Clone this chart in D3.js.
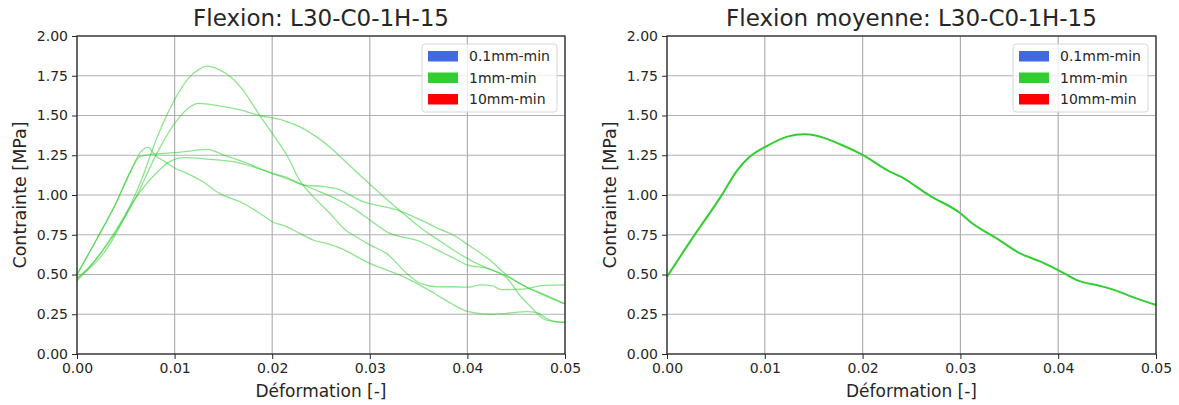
<!DOCTYPE html>
<html>
<head>
<meta charset="utf-8">
<script src="https://cdn.jsdelivr.net/npm/d3@7"></script>
<style>
  body { margin: 0; background: #fff; }
  svg text { font-family: "DejaVu Sans", sans-serif; fill: #262626; }
</style>
</head>
<body>
<svg id="chart" width="1179" height="405"></svg>
<script>
// values: [strain, stress]
const essai1 = [[0,0.48],[0.0015,0.55],[0.0032,0.675],[0.0049,0.864],[0.0066,1.094],[0.008,1.33],[0.01,1.6],[0.0115,1.74],[0.0125,1.79],[0.0133,1.81],[0.0145,1.79],[0.016,1.73],[0.017,1.66],[0.0187,1.503],[0.02,1.388],[0.0215,1.25],[0.0228,1.094],[0.0242,0.99],[0.0259,0.885],[0.0275,0.78],[0.0283,0.748],[0.03,0.686],[0.0317,0.633],[0.0338,0.507],[0.0352,0.444],[0.0369,0.423],[0.0385,0.423],[0.04,0.42],[0.0414,0.435],[0.0425,0.43],[0.0435,0.405],[0.046,0.41],[0.0476,0.43],[0.05,0.435]];
const essai2 = [[0,0.47],[0.002,0.6],[0.004,0.77],[0.006,0.98],[0.008,1.24],[0.01,1.45],[0.0115,1.55],[0.0124,1.576],[0.0146,1.56],[0.0167,1.535],[0.0187,1.5],[0.0211,1.47],[0.0228,1.43],[0.0245,1.367],[0.0263,1.28],[0.0282,1.17],[0.0301,1.063],[0.0332,0.895],[0.0355,0.78],[0.0372,0.71],[0.0383,0.665],[0.04,0.6],[0.042,0.54],[0.044,0.49],[0.0461,0.42],[0.0478,0.37],[0.05,0.315]];
const essai3 = [[0,0.5],[0.002,0.72],[0.004,0.95],[0.0055,1.15],[0.0064,1.24],[0.0075,1.255],[0.01,1.266],[0.0119,1.279],[0.0133,1.287],[0.0153,1.245],[0.0174,1.2],[0.02,1.136],[0.0215,1.11],[0.0232,1.063],[0.0249,1.055],[0.0266,1.04],[0.0293,0.958],[0.0328,0.906],[0.0352,0.843],[0.0372,0.784],[0.0385,0.75],[0.0401,0.686],[0.0423,0.591],[0.044,0.497],[0.0461,0.419],[0.0475,0.385],[0.05,0.315]];
const essai4 = [[0,0.46],[0.002,0.6],[0.004,0.78],[0.006,0.98],[0.008,1.13],[0.0095,1.21],[0.011,1.235],[0.0133,1.226],[0.016,1.21],[0.018,1.178],[0.02,1.136],[0.0232,1.063],[0.0249,1.02],[0.0259,0.994],[0.0283,0.916],[0.03,0.843],[0.0317,0.77],[0.0352,0.706],[0.0372,0.645],[0.0383,0.612],[0.04,0.56],[0.0422,0.535],[0.044,0.48],[0.0455,0.36],[0.0466,0.29],[0.048,0.215],[0.05,0.2]];
const essai5 = [[0,0.5],[0.002,0.72],[0.004,0.95],[0.0055,1.15],[0.0065,1.27],[0.0073,1.3],[0.008,1.25],[0.009,1.21],[0.01,1.17],[0.0115,1.13],[0.0126,1.094],[0.0146,1.01],[0.017,0.948],[0.019,0.874],[0.02,0.832],[0.0215,0.8],[0.0228,0.759],[0.0242,0.717],[0.0259,0.69],[0.0266,0.675],[0.03,0.57],[0.0338,0.476],[0.0361,0.4],[0.0383,0.319],[0.0401,0.266],[0.0423,0.25],[0.044,0.256],[0.0461,0.266],[0.0471,0.26],[0.0482,0.22],[0.0492,0.2],[0.05,0.197]];
const moyenne = [[0,0.486],[0.0027,0.738],[0.0055,0.99],[0.0072,1.157],[0.0084,1.237],[0.0101,1.304],[0.0123,1.367],[0.014,1.382],[0.0153,1.373],[0.0177,1.319],[0.02,1.252],[0.0225,1.157],[0.0239,1.115],[0.0269,0.994],[0.03,0.885],[0.031,0.832],[0.0337,0.727],[0.0361,0.633],[0.0382,0.581],[0.04,0.528],[0.0419,0.465],[0.0443,0.428],[0.0457,0.403],[0.0477,0.356],[0.05,0.308]];

const xTicks = [0, 0.01, 0.02, 0.03, 0.04, 0.05];
const yTicks = [0, 0.25, 0.5, 0.75, 1.0, 1.25, 1.5, 1.75, 2.0];
const legendLabels = ["0.1mm-min", "1mm-min", "10mm-min"];
const legendColors = ["royalblue", "limegreen", "red"];

const SVG = d3.select('#chart');
const TOP = 36, BOTTOM = 354;

function drawPanel(left, right, title, curves, lineOpacity, lineWidth) {
  const x = d3.scaleLinear().domain([0, 0.05]).range([left, right]);
  const y = d3.scaleLinear().domain([0, 2]).range([BOTTOM, TOP]);
  const g = SVG.append('g');

  // grid
  g.append('g').selectAll('line').data(xTicks).enter().append('line')
    .attr('x1', d => x(d)).attr('x2', d => x(d)).attr('y1', TOP).attr('y2', BOTTOM)
    .attr('stroke', '#b0b0b0').attr('stroke-width', 1.2);
  g.append('g').selectAll('line').data(yTicks).enter().append('line')
    .attr('y1', d => y(d)).attr('y2', d => y(d)).attr('x1', left).attr('x2', right)
    .attr('stroke', '#b0b0b0').attr('stroke-width', 1.2);

  const line = d3.line().x(d => x(d[0])).y(d => y(d[1])).curve(d3.curveMonotoneX);
  g.append('g').selectAll('path').data(curves).enter().append('path')
    .attr('d', line)
    .attr('fill', 'none')
    .attr('stroke', 'limegreen')
    .attr('stroke-opacity', lineOpacity)
    .attr('stroke-width', lineWidth);

  // axes
  const xAxis = d3.axisBottom(x).tickValues(xTicks).tickFormat(d3.format('.2f')).tickSizeInner(5).tickSizeOuter(0).tickPadding(4);
  const yAxis = d3.axisLeft(y).tickValues(yTicks).tickFormat(d3.format('.2f')).tickSizeInner(5).tickSizeOuter(0).tickPadding(4);
  g.append('g').attr('transform', `translate(0,${BOTTOM})`).call(xAxis);
  g.append('g').attr('transform', `translate(${left},0)`).call(yAxis);
  g.selectAll('.tick text').style('font-size', '14px').style('font-family', '"DejaVu Sans", sans-serif').attr('fill', '#262626');
  g.selectAll('.tick line').attr('stroke', '#262626');
  g.selectAll('.domain').remove();

  // frame
  g.append('rect').attr('x', left).attr('y', TOP).attr('width', right - left).attr('height', BOTTOM - TOP)
    .attr('fill', 'none').attr('stroke', '#222').attr('stroke-width', 1.2);

  // titles
  g.append('text').attr('x', (left + right) / 2).attr('y', 26).attr('text-anchor', 'middle')
    .style('font-size', '23px').text(title);
  g.append('text').attr('x', (left + right) / 2).attr('y', 397).attr('text-anchor', 'middle')
    .style('font-size', '17px').text('Déformation [-]');
  g.append('text').attr('transform', `translate(${left - 51},${(TOP + BOTTOM) / 2}) rotate(-90)`)
    .attr('text-anchor', 'middle').style('font-size', '17.5px').text('Contrainte [MPa]');

  // legend
  const lx = right - 143, ly = 44;
  const leg = g.append('g');
  leg.append('rect').attr('x', lx).attr('y', ly).attr('width', 135).attr('height', 68).attr('rx', 3)
    .attr('fill', 'white').attr('fill-opacity', 0.8).attr('stroke', '#d6d6d6');
  legendLabels.forEach((lab, i) => {
    leg.append('rect').attr('x', lx + 6).attr('y', ly + 7 + i * 21.5).attr('width', 30).attr('height', 10.5)
      .attr('fill', legendColors[i]);
    leg.append('text').attr('x', lx + 47).attr('y', ly + 17 + i * 21.5).style('font-size', '14px').text(lab);
  });
}

drawPanel(77, 565, 'Flexion: L30-C0-1H-15', [essai1, essai2, essai3, essai4, essai5], 0.55, 1.3);
drawPanel(667, 1156, 'Flexion moyenne: L30-C0-1H-15', [moyenne], 1, 2);
</script>
</body>
</html>
